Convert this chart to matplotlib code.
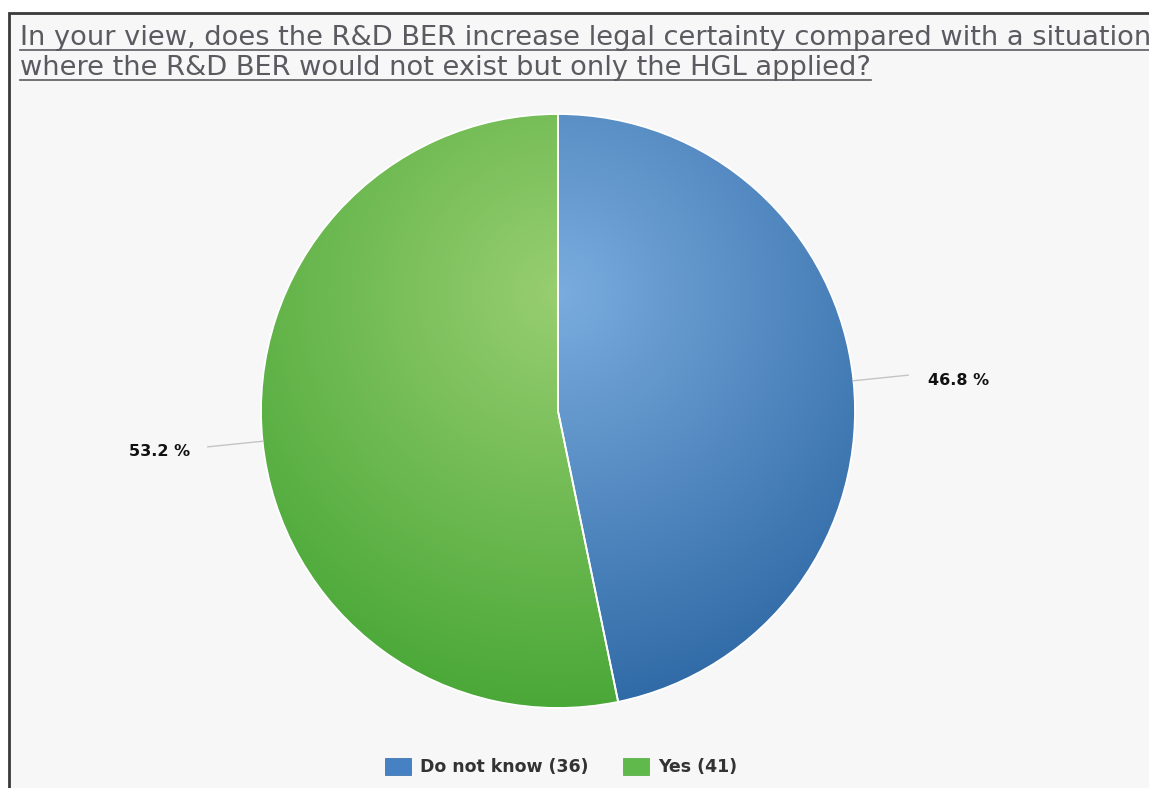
import numpy as np
import matplotlib
matplotlib.use("Agg")
import matplotlib.pyplot as plt
from matplotlib.patches import Rectangle, Patch

# data
categories = ["Do not know", "Yes"]
counts = [36, 41]
base_colors = [(122, 172, 222), (152, 206, 112)]   # light centre of gradient
edge_colors = [(48, 106, 166), (74, 168, 56)]      # dark rim of gradient
title_lines = ["In your view, does the R&D BER increase legal certainty compared with a situation",
               "where the R&D BER would not exist but only the HGL applied?"]

W, H = 1149, 788
fig = plt.figure(figsize=(W / 100, H / 100), dpi=100)
fig.patch.set_facecolor("white")
ax = fig.add_axes([0, 0, 1, 1])
ax.set_xlim(0, W)
ax.set_ylim(0, H)
ax.axis("off")

# panel background + frame (left and top edges visible only)
ax.add_patch(Rectangle((8.5, -20), W + 20, H - 13 + 20, facecolor="#f7f7f7",
                       edgecolor="#3a3a3a", linewidth=2, zorder=0))

cx, cy, r = 558, H - 411, 297
total = sum(counts)

wedges, _ = ax.pie(counts, startangle=90, counterclock=False, center=(cx, cy),
                   radius=r, colors=["none", "none"],
                   wedgeprops=dict(edgecolor="white", linewidth=1.3), frame=True)

# radial gradient fill, highlight a bit above the centre
gx0, gy0 = cx, cy + 0.4 * r
grad_r = 1.4 * r
yy, xx = np.mgrid[cy + r:cy - r:-1.0, cx - r:cx + r:1.0]
t = np.clip(np.hypot(xx - gx0, yy - gy0) / grad_r, 0, 1)[..., None]
for w, c0, c1 in zip(wedges, base_colors, edge_colors):
    c0 = np.array(c0) / 255
    c1 = np.array(c1) / 255
    img = c0 * (1 - t) + c1 * t
    im = ax.imshow(img, extent=(cx - r, cx + r, cy - r, cy + r), zorder=1,
                   interpolation="bilinear")
    im.set_clip_path(w)
    w.set_zorder(2)

# percentage labels with connector lines
for w, n in zip(wedges, counts):
    mid = np.deg2rad((w.theta1 + w.theta2) / 2)
    sx, sy = cx + r * np.cos(mid), cy + r * np.sin(mid)
    ex, ey = cx + (r + 55) * np.cos(mid), cy + (r + 55) * np.sin(mid)
    ax.plot([sx, ex], [sy, ey], color="#c4c4c4", linewidth=1, zorder=3)
    right = np.cos(mid) > 0
    ax.text(ex + (20 if right else -18), ey - 5, f"{100 * n / total:.1f} %",
            ha="left" if right else "right", va="center", fontsize=11.5,
            fontweight="bold", color="#111111", family="DejaVu Sans")

ax.set_xlim(0, W)
ax.set_ylim(0, H)
ax.set_aspect("auto")

# underlined title
title_texts = []
for i, line in enumerate(title_lines):
    tt = ax.text(20, H - 45 - 30 * i, line, ha="left", va="baseline", fontsize=19.6,
                 color="#5a5a60", family="DejaVu Sans")
    title_texts.append(tt)
fig.canvas.draw()
inv = ax.transData.inverted()
for i, tt in enumerate(title_texts):
    bb = tt.get_window_extent()
    (x0, _), (x1, _) = inv.transform([[bb.x0, 0], [bb.x1, 0]])
    yb = H - 50 - 30 * i
    ax.plot([x0, min(x1, W)], [yb, yb], color="#5a5a60", linewidth=1.2)

# legend
handles = [Patch(facecolor=np.array(c) / 255, edgecolor=np.array(e) / 255, linewidth=0.5)
           for c, e in zip([(70, 130, 195), (95, 185, 75)], edge_colors)]
labels = [f"{c} ({n})" for c, n in zip(categories, counts)]
leg = ax.legend(handles, labels, loc="center", bbox_to_anchor=(561 / W, 1 - 767 / H),
                ncol=2, frameon=False, handlelength=1.5, handleheight=1.2,
                handletextpad=0.5, columnspacing=2.0,
                prop=dict(family="DejaVu Sans", weight="bold", size=12.5))
for txt in leg.get_texts():
    txt.set_color("#333333")

fig.savefig("out.png", dpi=100, facecolor="white")
